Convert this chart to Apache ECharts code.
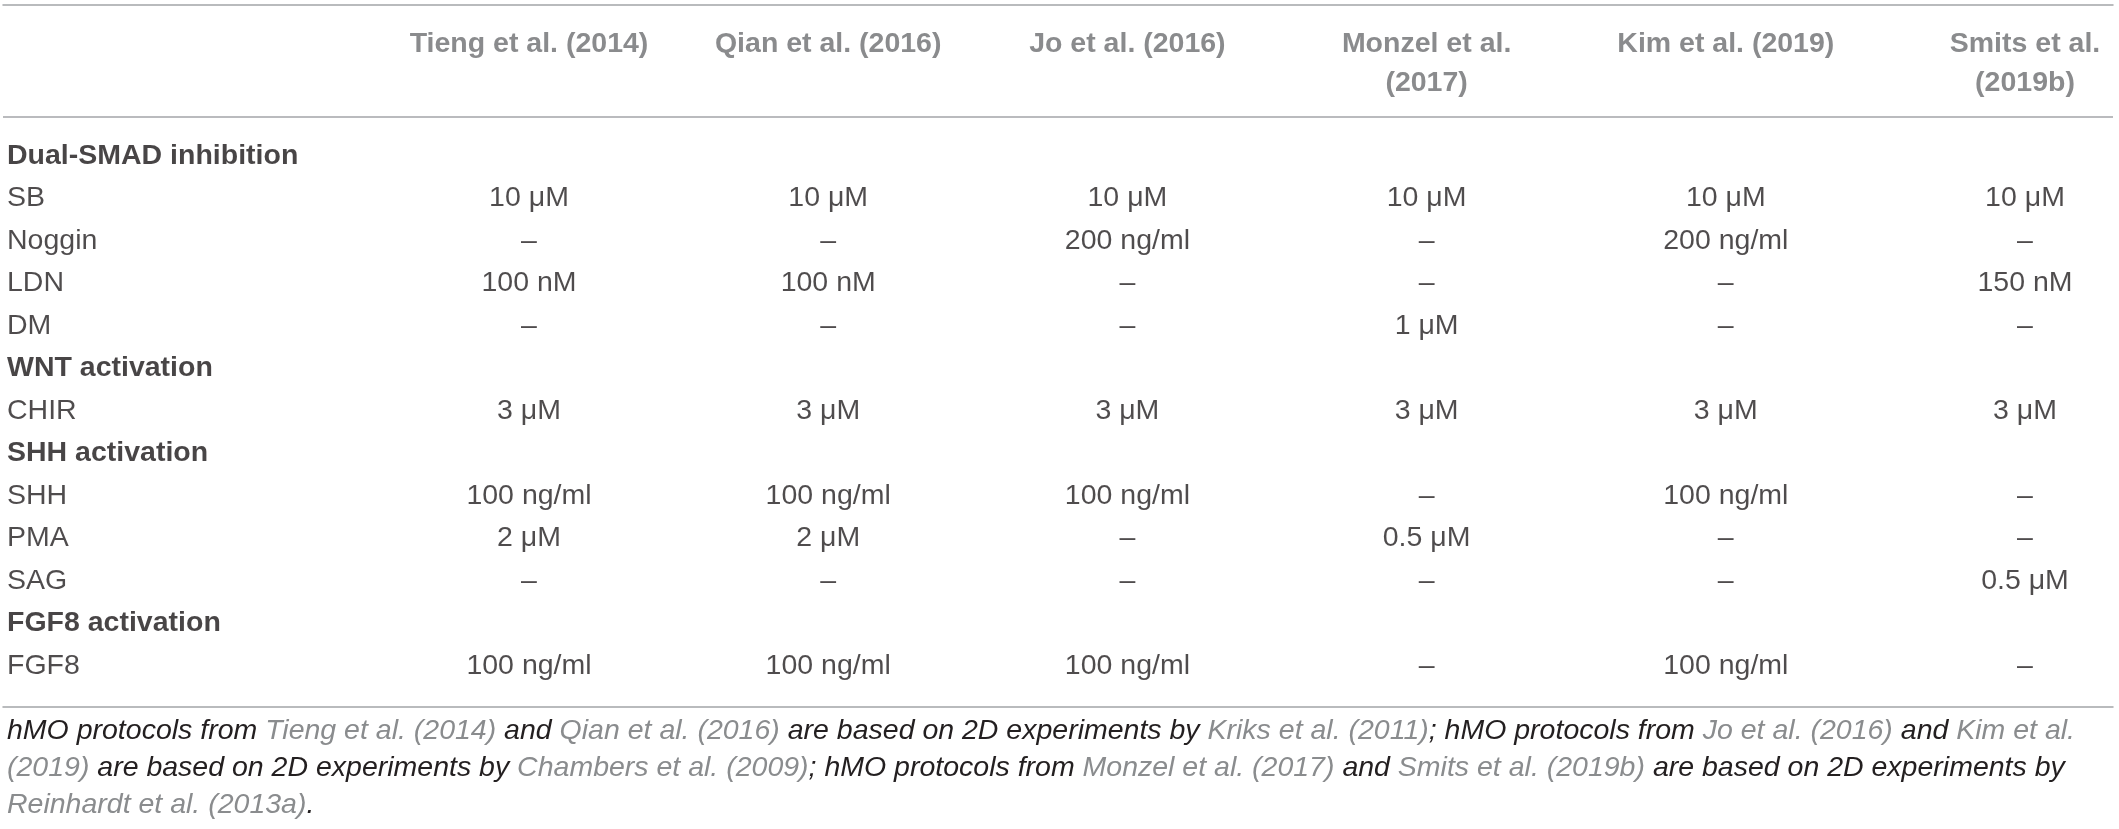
<!DOCTYPE html>
<html>
<head>
<meta charset="utf-8">
<script src="https://cdn.jsdelivr.net/npm/echarts@6/dist/echarts.min.js"></script>
<style>
  html, body { margin: 0; padding: 0; background: #fff; }
  #table_chart { width: 2119px; height: 829px; }
</style>
</head>
<body>
<div id="table_chart"></div>
<script>
// protocols compared (column headers)
var studies = ['Tieng et al. (2014)', 'Qian et al. (2016)', 'Jo et al. (2016)',
  'Monzel et al.\n(2017)', 'Kim et al. (2019)', 'Smits et al.\n(2019b)'];

// row labels, in order; section rows have no values
var rowNames = ['Dual-SMAD inhibition', 'SB', 'Noggin', 'LDN', 'DM', 'WNT activation', 'CHIR',
  'SHH activation', 'SHH', 'PMA', 'SAG', 'FGF8 activation', 'FGF8'];
var sections = ['Dual-SMAD inhibition', 'WNT activation', 'SHH activation', 'FGF8 activation'];

// concentrations per compound, one entry per study
var SB     = ['10 \u03bcM', '10 \u03bcM', '10 \u03bcM', '10 \u03bcM', '10 \u03bcM', '10 \u03bcM'];
var Noggin = ['\u2013', '\u2013', '200 ng/ml', '\u2013', '200 ng/ml', '\u2013'];
var LDN    = ['100 nM', '100 nM', '\u2013', '\u2013', '\u2013', '150 nM'];
var DM     = ['\u2013', '\u2013', '\u2013', '1 \u03bcM', '\u2013', '\u2013'];
var CHIR   = ['3 \u03bcM', '3 \u03bcM', '3 \u03bcM', '3 \u03bcM', '3 \u03bcM', '3 \u03bcM'];
var SHH    = ['100 ng/ml', '100 ng/ml', '100 ng/ml', '\u2013', '100 ng/ml', '\u2013'];
var PMA    = ['2 \u03bcM', '2 \u03bcM', '\u2013', '0.5 \u03bcM', '\u2013', '\u2013'];
var SAG    = ['\u2013', '\u2013', '\u2013', '\u2013', '\u2013', '0.5 \u03bcM'];
var FGF8   = ['100 ng/ml', '100 ng/ml', '100 ng/ml', '\u2013', '100 ng/ml', '\u2013'];

var compounds = { SB: SB, Noggin: Noggin, LDN: LDN, DM: DM, CHIR: CHIR, SHH: SHH, PMA: PMA, SAG: SAG, FGF8: FGF8 };

// footnote: [text, isCitation] per line
var note1 = [['hMO protocols from ', 0], ['Tieng et al. (2014)', 1], [' and ', 0], ['Qian et al. (2016)', 1],
  [' are based on 2D experiments by ', 0], ['Kriks et al. (2011)', 1], ['; hMO protocols from ', 0],
  ['Jo et al. (2016)', 1], [' and ', 0], ['Kim et al.', 1]];
var note2 = [['(2019)', 1], [' are based on 2D experiments by ', 0], ['Chambers et al. (2009)', 1],
  ['; hMO protocols from ', 0], ['Monzel et al. (2017)', 1], [' and ', 0], ['Smits et al. (2019b)', 1],
  [' are based on 2D experiments by', 0]];
var note3 = [['Reinhardt et al. (2013a)', 1], ['.', 0]];


//------------layout (pixels)
var colFirst = 529, colStep = 299.2, ruleLeft = 3, ruleRight = 2113;
var rowFirst = 156, rowStep = 42.5;
var topRule = 5, headRule = 117, bottomRule = 706.5, headTextTop = 24.5;

var xMin = (ruleLeft - colFirst) / colStep;
var xMax = (ruleRight - colFirst) / colStep;
var yMin = (topRule - rowFirst) / rowStep;
var yMax = (bottomRule - rowFirst) / rowStep;

var font = "'Liberation Sans', Arial, Helvetica, sans-serif";
var ruleStyle = { color: '#a3a5a8', width: 1.5 };

var cellData = [];
rowNames.forEach(function (r, ri) {
  var vals = compounds[r];
  if (!vals) return;
  vals.forEach(function (v, ci) { cellData.push([ci, ri, v]); });
});

var headData = studies.map(function (s, ci) {
  return [ci, (headTextTop - rowFirst) / rowStep, s];
});

var labelData = rowNames.map(function (r, ri) {
  var isSec = sections.indexOf(r) >= 0;
  return {
    value: [xMin, ri, r],
    label: { fontWeight: isSec ? 'bold' : 'normal', color: isSec ? '#1a1718' : '#231f20' }
  };
});

function noteLine(parts) {
  return parts.map(function (p) { return '{' + (p[1] ? 'c' : 'i') + '|' + p[0] + '}'; }).join('');
}

var eChart = echarts.init(document.getElementById('table_chart'));
var option = {
  animation: false,
  backgroundColor: '#ffffff',
  title: {
    left: 7,
    top: 712.5,
    padding: 0,
    text: [noteLine(note1), noteLine(note2), noteLine(note3)].join('\n'),
    textStyle: {
      fontFamily: font,
      fontSize: 28.5,
      lineHeight: 37,
      rich: {
        i: { fontFamily: font, fontSize: 28.5, lineHeight: 37, fontStyle: 'italic', fontWeight: 'normal', color: '#231f20' },
        c: { fontFamily: font, fontSize: 28.5, lineHeight: 37, fontStyle: 'italic', fontWeight: 'normal', color: '#8a8c8e' }
      }
    }
  },
  grid: {
    left: ruleLeft,
    top: topRule,
    width: ruleRight - ruleLeft,
    height: bottomRule - topRule
  },
  xAxis: [
    {
      type: 'value', min: xMin, max: xMax, position: 'top',
      axisLine: { show: true, onZero: false, lineStyle: ruleStyle },
      axisTick: { show: false }, axisLabel: { show: false }, splitLine: { show: false }
    },
    {
      type: 'value', min: xMin, max: xMax, position: 'bottom',
      axisLine: { show: true, onZero: false, lineStyle: ruleStyle },
      axisTick: { show: false }, axisLabel: { show: false }, splitLine: { show: false }
    }
  ],
  yAxis: {
    type: 'value', inverse: true, min: yMin, max: yMax, show: false
  },
  series: [
    {
      name: 'cells',
      type: 'scatter',
      symbolSize: 0,
      silent: true,
      data: cellData,
      label: {
        show: true,
        position: [0, 0],
        align: 'center',
        verticalAlign: 'middle',
        fontFamily: font,
        fontSize: 28.5,
        color: '#231f20',
        formatter: function (p) { return p.value[2]; }
      },
      markLine: {
        silent: true,
        symbol: 'none',
        label: { show: false },
        lineStyle: { color: ruleStyle.color, width: ruleStyle.width, type: 'solid' },
        data: [{ yAxis: (headRule - rowFirst) / rowStep }]
      }
    },
    {
      name: 'headers',
      type: 'scatter',
      symbolSize: 0,
      silent: true,
      data: headData,
      label: {
        show: true,
        position: [0, 0],
        align: 'center',
        verticalAlign: 'top',
        fontFamily: font,
        fontSize: 28.5,
        lineHeight: 39,
        fontWeight: 'bold',
        color: '#6d6e71',
        formatter: function (p) { return p.value[2]; }
      }
    },
    {
      name: 'rows',
      type: 'scatter',
      symbolSize: 0,
      silent: true,
      data: labelData,
      label: {
        show: true,
        position: [0, 0],
        align: 'left',
        verticalAlign: 'middle',
        offset: [4, 0],
        fontFamily: font,
        fontSize: 28.5,
        formatter: function (p) { return p.value[2]; }
      }
    }
  ]
};

eChart.setOption(option);
eChart.resize();
</script>
</body>
</html>
